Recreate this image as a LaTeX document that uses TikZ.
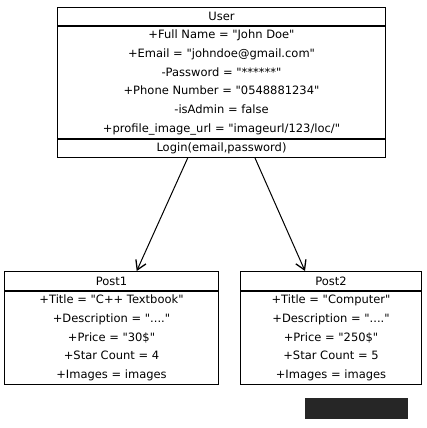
\documentclass[tikz,border=0pt]{standalone}
\usepackage{fontspec}
\setmainfont{DejaVu Sans}[Ligatures=TeXOff]
\usetikzlibrary{positioning,arrows.meta}
\begin{document}
\begin{tikzpicture}[x=1pt,y=-1pt,line width=1pt,
font=\fontsize{11.5}{18.7}\selectfont,
hd/.style={draw,rectangle,inner sep=0pt,minimum height=18pt,text=black},
bd/.style={draw,rectangle,inner sep=0pt,align=center,text=black},
arr/.style={-{Straight Barb[length=9pt,width=11pt,line width=1.3pt]}}]
\useasboundingbox (0,0) rectangle (426,428);
% user class
\node[hd,minimum width=328pt,anchor=north west] (user) at (57,7) {User};
\node[bd,minimum width=328pt,minimum height=112pt,below=0pt of user] (userattr)
  {+Full Name = "John Doe"\\
   +Email = "johndoe@gmail.com"\\
   -Password = "******"\\
   +Phone Number = "0548881234"\\
   -isAdmin = false\\
   +profile\_image\_url = "imageurl/123/loc/"};
\node[hd,minimum width=328pt,below=0pt of userattr] (userop) {Login(email,password)};
% posts
\node[hd,minimum width=214pt,minimum height=19pt,anchor=north west] (post1) at (4,271) {Post1};
\node[bd,minimum width=214pt,minimum height=93pt,below=0pt of post1] (post1attr)
  {+Title = "C++ Textbook"\\
   +Description = "...."\\
   +Price = "30\$"\\
   +Star Count = 4\\
   +Images = images};
\node[hd,minimum width=181pt,minimum height=19pt,anchor=north west] (post2) at (240,271) {Post2};
\node[bd,minimum width=181pt,minimum height=93pt,below=0pt of post2] (post2attr)
  {+Title = "Computer"\\
   +Description = "...."\\
   +Price = "250\$"\\
   +Star Count = 5\\
   +Images = images};
\draw[arr] ([xshift=130.7pt]userop.south west) -- ([xshift=132.7pt]post1.north west);
\draw[arr] ([xshift=198pt]userop.south west) -- ([xshift=65pt]post2.north west);
\fill[black!85] (305,398) rectangle (408,419);
\end{tikzpicture}
\end{document}
